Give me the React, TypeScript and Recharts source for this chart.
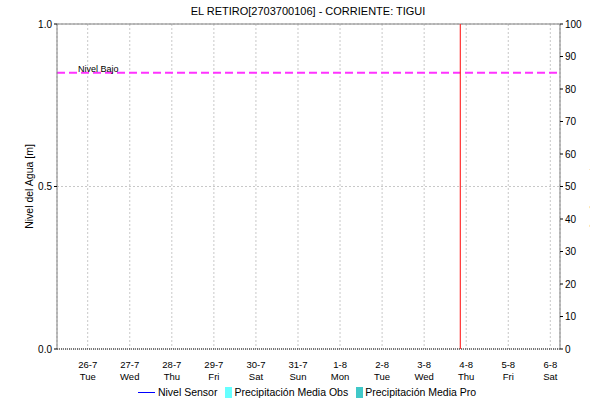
import {
  ComposedChart,
  Line,
  Bar,
  XAxis,
  YAxis,
  CartesianGrid,
  ReferenceLine,
  Legend,
} from "recharts";

// days counted from 26-7
const dayIndex = [0, 1, 2, 3, 4, 5, 6, 7, 8, 9, 10, 11];
const dateLabels = ["26-7", "27-7", "28-7", "29-7", "30-7", "31-7", "1-8", "2-8", "3-8", "4-8", "5-8", "6-8"];
const weekdayLabels = ["Tue", "Wed", "Thu", "Fri", "Sat", "Sun", "Mon", "Tue", "Wed", "Thu", "Fri", "Sat"];
const nivelSensor = [null, null, null, null, null, null, null, null, null, null, null, null];
const precipObs = [0, 0, 0, 0, 0, 0, 0, 0, 0, 0, 0, 0];
const precipPro = [0, 0, 0, 0, 0, 0, 0, 0, 0, 0, 0, 0];

const leftTicks = [0, 0.5, 1];
const rightTicks = [0, 10, 20, 30, 40, 50, 60, 70, 80, 90, 100];
const nivelBajo = 0.85;
const ahora = 8.86; // current time marker
const xDomain = [-0.73, 11.23];

const legendItems = [
  { name: "Nivel Sensor", type: "line", color: "#0000ff" },
  { name: "Precipitación Media Obs", type: "rect", color: "#66ffff" },
  { name: "Precipitación Media Pro", type: "rect", color: "#40c8c8" },
];

const data = dayIndex.map((d, i) => ({
  day: d,
  nivel: nivelSensor[i],
  obs: precipObs[i],
  pro: precipPro[i],
}));

const FONT = "'Liberation Sans', Arial, sans-serif";

function DayTick(props: any) {
  const { x, y, payload } = props;
  const i = dayIndex.indexOf(payload.value);
  return (
    <g transform={`translate(${x},${y})`}>
      <text x={0} y={11} textAnchor="middle" fontSize={9.5} fill="#000" fontFamily={FONT}>
        {dateLabels[i]}
      </text>
      <text x={0} y={23} textAnchor="middle" fontSize={9.5} fill="#000" fontFamily={FONT}>
        {weekdayLabels[i]}
      </text>
    </g>
  );
}

function LegendContent() {
  return (
    <div style={{ display: "flex", justifyContent: "center", fontFamily: FONT, fontSize: 10.5, color: "#000", paddingLeft: 32 }}>
      {legendItems.map((it) => (
        <div key={it.name} style={{ display: "flex", alignItems: "center", marginRight: 8 }}>
          {it.type === "line" ? (
            <div style={{ width: 17, height: 1, background: it.color, marginRight: 3 }} />
          ) : (
            <div style={{ width: 7, height: 11, background: it.color, marginRight: 2 }} />
          )}
          <span>{it.name}</span>
        </div>
      ))}
    </div>
  );
}

export default function App() {
  return (
    <div style={{ position: "absolute", left: 0, top: 0, width: 590, height: 401, background: "#fff" }}>
      <ComposedChart width={590} height={401} data={data} margin={{ top: 24, right: 0, bottom: 10, left: 0 }}>
        <text x={308} y={15} textAnchor="middle" fontSize={11} fontFamily={FONT} fill="#000">
          EL RETIRO[2703700106] - CORRIENTE: TIGUI
        </text>
        <CartesianGrid yAxisId="left" stroke="#c8c8c8" strokeDasharray="2 2" />
        <XAxis
          dataKey="day"
          type="number"
          domain={xDomain}
          ticks={dayIndex}
          allowDataOverflow
          tick={<DayTick />}
          tickLine={false}
          axisLine={{ stroke: "#000", strokeDasharray: "1 1" }}
          height={30}
        />
        <YAxis
          yAxisId="left"
          type="number"
          domain={[0, 1]}
          allowDataOverflow
          ticks={leftTicks}
          tickFormatter={(v: number) => Number(v).toFixed(1)}
          tick={{ fontSize: 10, fill: "#000", fontFamily: FONT }}
          tickLine={{ stroke: "#000" }}
          tickSize={3}
          axisLine={{ stroke: "#808080" }}
          width={57}
          label={{ value: "Nivel del Agua [m]", angle: -90, position: "insideLeft", offset: 29, style: { fontSize: 10.5, fill: "#000", fontFamily: FONT, textAnchor: "middle" } }}
        />
        <YAxis
          yAxisId="right"
          orientation="right"
          type="number"
          domain={[0, 100]}
          allowDataOverflow
          ticks={rightTicks}
          tick={{ fontSize: 10, fill: "#000", fontFamily: FONT }}
          tickLine={{ stroke: "#000" }}
          tickSize={3}
          axisLine={{ stroke: "#808080" }}
          width={30}
          label={{ value: "Precipitación [mm]", angle: 90, position: "insideRight", offset: -6, style: { fontSize: 10, fill: "#000", fontFamily: FONT, textAnchor: "middle" } }}
        />
        <ReferenceLine yAxisId="left" y={1} stroke="#808080" ifOverflow="visible" />
        <ReferenceLine
          yAxisId="left"
          y={nivelBajo}
          stroke="#ff33ff"
          strokeWidth={2}
          strokeDasharray="8 4"
          label={(p: any) => (
            <text x={p.viewBox.x + 21} y={p.viewBox.y - 1} fontSize={9} fontFamily={FONT} fill="#000">
              Nivel Bajo
            </text>
          )}
        />
        <ReferenceLine yAxisId="left" x={ahora} stroke="#ff3030" strokeWidth={1.2} />
        <Bar yAxisId="right" dataKey="obs" name="Precipitación Media Obs" fill="#66ffff" isAnimationActive={false} />
        <Bar yAxisId="right" dataKey="pro" name="Precipitación Media Pro" fill="#40c8c8" isAnimationActive={false} />
        <Line yAxisId="left" dataKey="nivel" name="Nivel Sensor" stroke="#0000ff" dot={false} isAnimationActive={false} />
        <Legend content={<LegendContent />} verticalAlign="bottom" wrapperStyle={{ position: "absolute", top: 386, left: 0, width: 590 }} />
      </ComposedChart>
    </div>
  );
}
